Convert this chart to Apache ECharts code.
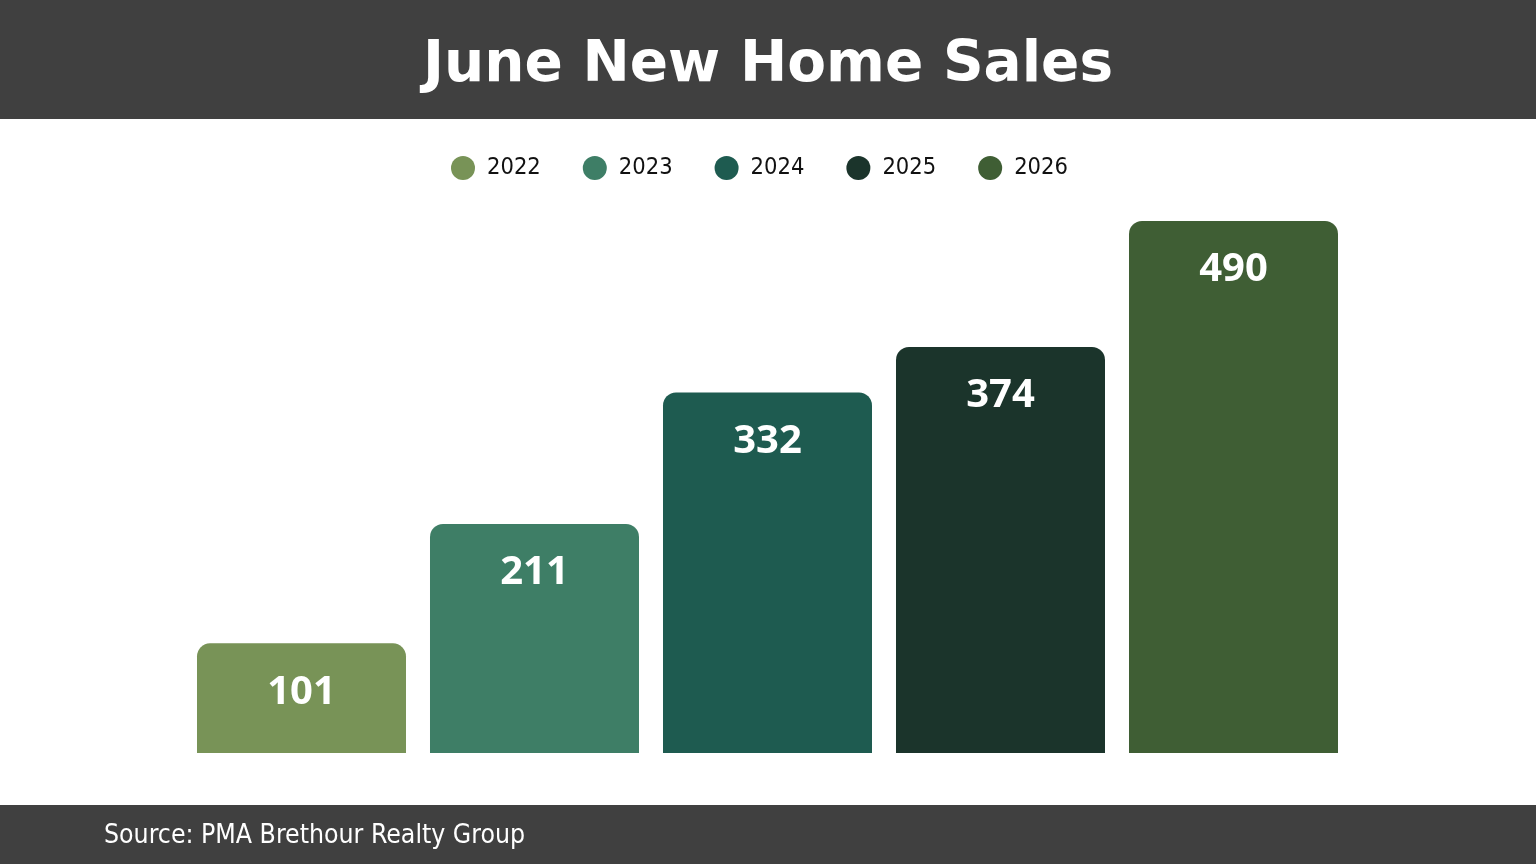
<!DOCTYPE html>
<html>
<head>
<meta charset="utf-8">
<script src="https://cdn.jsdelivr.net/npm/echarts@6/dist/echarts.min.js"></script>
<style>
  html, body { margin: 0; padding: 0; background: #ffffff; }
  #chart { width: 1536px; height: 864px; }
</style>
</head>
<body>
<div id="chart"></div>
<script>
var years = ['2022', '2023', '2024', '2025', '2026'];
var sales = [101, 211, 332, 374, 490];
var colors = ['#789357', '#3e7e66', '#1e5b50', '#1b342b', '#3f5e34'];

var chart = echarts.init(document.getElementById('chart'));

// one series per year so the legend shows each year
var series = years.map(function (y, i) {
    var d = years.map(function (_, j) { return j === i ? sales[i] : '-'; });
    return {
        name: y,
        type: 'bar',
        data: d,
        barGap: '-100%',
        barCategoryGap: '10.3%',
        itemStyle: { color: colors[i], borderRadius: [13, 13, 0, 0] },
        label: {
            show: true,
            position: 'insideTop',
            distance: 29,
            color: '#ffffff',
            fontFamily: 'Noto Sans',
            fontWeight: 'bold',
            fontSize: 40,
            lineHeight: 40
        },
        emphasis: { disabled: true }
    };
});

var option = {
    animation: false,
    backgroundColor: '#ffffff',
    title: {
        text: 'June New Home Sales',
        left: 'center',
        top: 33,
        textStyle: {
            color: '#ffffff',
            fontFamily: 'DejaVu Sans',
            fontWeight: 'bold',
            fontSize: 56.5
        }
    },
    graphic: [
        { type: 'rect', z: -1, shape: { x: 0, y: 0, width: 1536, height: 119 }, style: { fill: '#404040' } },
        { type: 'rect', z: -1, shape: { x: 0, y: 805, width: 1536, height: 59 }, style: { fill: '#404040' } },
        {
            type: 'text', left: 104, top: 823,
            style: {
                text: 'Source: PMA Brethour Realty Group',
                fill: '#ffffff',
                font: '26.4px "DejaVu Sans Condensed", "DejaVu Sans"'
            }
        }
    ],
    legend: {
        data: years,
        top: 151,
        left: 446,
        icon: 'circle',
        itemWidth: 24,
        itemHeight: 24,
        itemGap: 42,
        textStyle: {
            color: '#111111',
            fontFamily: 'DejaVu Sans Condensed',
            fontSize: 23.5,
            padding: [0, 0, 0, 7]
        }
    },
    grid: { left: 185, right: 186, top: 221, bottom: 111 },
    xAxis: {
        type: 'category',
        data: years,
        axisLine: { show: false },
        axisTick: { show: false },
        axisLabel: { show: false }
    },
    yAxis: {
        type: 'value',
        min: 0,
        max: 490,
        show: false,
        splitLine: { show: false }
    },
    series: series
};

chart.setOption(option);
</script>
</body>
</html>
